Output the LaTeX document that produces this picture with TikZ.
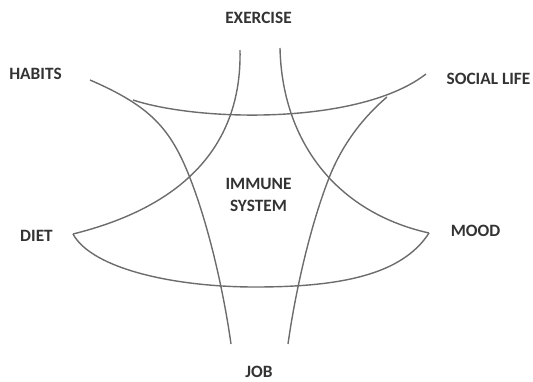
\documentclass[tikz,border=0pt]{standalone}
\usepackage{fontspec}
\setmainfont{Carlito}
\usetikzlibrary{positioning}

\definecolor{linegray}{HTML}{6C6C6C}
\definecolor{textgray}{HTML}{333333}

\begin{document}
\begin{tikzpicture}[x=1pt, y=-1pt,
    lbl/.style={text=textgray, font=\fontsize{17.3}{22}\selectfont\bfseries, inner sep=0pt},
    arc/.style={draw=linegray, line width=1.4pt}]
    \useasboundingbox (0,0) rectangle (533,381);

    \node[lbl] (exercise) at (258.5, 17.5) {EXERCISE};
    \node[lbl] (habits) at (35.5, 74) {HABITS};
    \node[lbl] (social) at (488.5, 79) {SOCIAL LIFE};
    \node[lbl, align=center] (immune) at (258.5, 195) {IMMUNE\\SYSTEM};
    \node[lbl] (diet) at (36.5, 236) {DIET};
    \node[lbl] (mood) at (475.5, 231) {MOOD};
    \node[lbl] (job) at (259, 372) {JOB};

    \coordinate (exL) at (240, 50);
    \coordinate (exR) at (280, 48);
    \coordinate (haT) at (90, 80);
    \coordinate (haB) at (133, 100);
    \coordinate (soT) at (426, 74);
    \coordinate (soB) at (387, 97);
    \coordinate (di) at (73, 234);
    \coordinate (mo) at (429, 233);
    \coordinate (joL) at (231, 344);
    \coordinate (joR) at (288, 344);
    \coordinate (bot) at (255, 287);

    % curves from the top pair down to the corners
    \draw[arc] (exL) .. controls (242, 140) and (190, 205) .. (di);
    \draw[arc] (exR) .. controls (282, 140) and (335, 212) .. (mo);
    % curves from the side labels down to job
    \draw[arc] (haT) .. controls (150, 106) and (170.5, 128) .. (190, 178)
        .. controls (209.5, 228) and (224, 294) .. (joL);
    \draw[arc] (soB) .. controls (360, 120) and (340.7, 148) .. (329, 178)
        .. controls (309.5, 228) and (295, 294) .. (joR);
    % upper and lower arcs
    \draw[arc] (haB) .. controls (200, 122) and (360, 125) .. (soT);
    \draw[arc] (di) .. controls (92, 269) and (175, 287) .. (bot)
        .. controls (340, 287) and (402, 275) .. (mo);
\end{tikzpicture}
\end{document}
